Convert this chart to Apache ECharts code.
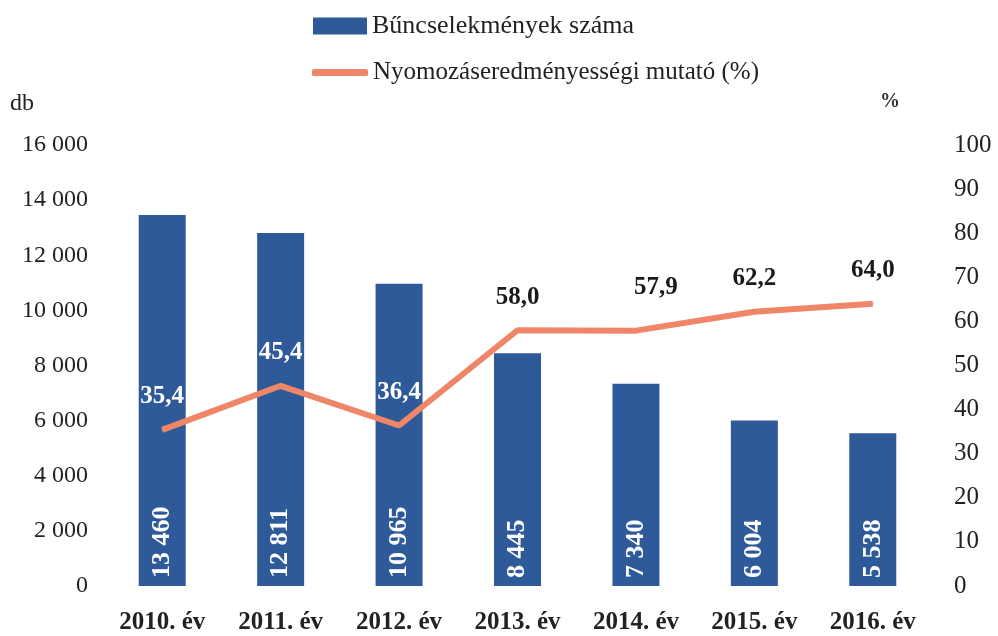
<!DOCTYPE html>
<html>
<head>
<meta charset="utf-8">
<script src="https://cdn.jsdelivr.net/npm/echarts@6/dist/echarts.min.js"></script>
<style>
  html, body { margin: 0; padding: 0; background: #fff; }
  #myChart { width: 998px; height: 636px; }
</style>
</head>
<body>
<div id="myChart"></div>
<script>
// adatok
var years = ['2010. év', '2011. év', '2012. év', '2013. év', '2014. év', '2015. év', '2016. év'];
var crimes = [13460, 12811, 10965, 8445, 7340, 6004, 5538];
var ratio = [35.4, 45.4, 36.4, 58.0, 57.9, 62.2, 64.0];
var leftTicks = [0, 2000, 4000, 6000, 8000, 10000, 12000, 14000, 16000];
var rightTicks = [0, 10, 20, 30, 40, 50, 60, 70, 80, 90, 100];

var font = '"Liberation Serif", "DejaVu Serif", serif';
var barColor = '#2f5a9a';
var lineColor = '#ef8668';

function thousands(v) {
  return String(v).replace(/\B(?=(\d{3})+(?!\d))/g, ' ');
}
function decimal(v) {
  return v.toFixed(1).replace('.', ',');
}

// the first three labels sit on the bars -> white
var ratioData = ratio.map(function (v, i) {
  var lbl = { color: i < 3 ? '#fff' : '#1a1a1a' };
  if (i === 4) lbl.offset = [20, -10];   // 2014 label is pushed up/right in the original
  return { value: v, label: lbl };
});

var myChart = echarts.init(document.getElementById('myChart'));
var option = {
  backgroundColor: '#fff',
  animation: false,
  textStyle: { fontFamily: font },
  legend: [
    {
      data: ['Bűncselekmények száma'],
      left: 308, top: 8,
      itemWidth: 54, itemHeight: 17, itemGap: 6,
      icon: 'rect',
      textStyle: { fontFamily: font, fontSize: 26, color: '#222' }
    },
    {
      data: ['Nyomozáseredményességi mutató (%)'],
      left: 307, top: 55,
      itemWidth: 56, itemHeight: 7, itemGap: 6,
      icon: 'roundRect',
      textStyle: { fontFamily: font, fontSize: 25, color: '#222' }
    }
  ],
  graphic: [
    { type: 'text', left: 10, top: 92, style: { text: 'db', font: '24px ' + font, fill: '#222' } },
    { type: 'text', left: 880, top: 92, style: { text: '%', font: 'bold 20px ' + font, fill: '#333' } }
  ],
  grid: { left: 103, right: 66, top: 145, bottom: 50 },
  xAxis: {
    type: 'category',
    data: years,
    axisLine: { show: false },
    axisTick: { show: false },
    axisLabel: {
      margin: 24,
      fontFamily: font, fontSize: 25, fontWeight: 'bold', color: '#222'
    }
  },
  yAxis: [
    {
      type: 'value',
      min: leftTicks[0], max: leftTicks[leftTicks.length - 1],
      interval: leftTicks[1] - leftTicks[0],
      splitLine: { show: false },
      axisLine: { show: false },
      axisTick: { show: false },
      axisLabel: {
        margin: 15,
        fontFamily: font, fontSize: 24, color: '#222',
        formatter: function (v) { return thousands(v); }
      }
    },
    {
      type: 'value',
      min: rightTicks[0], max: rightTicks[rightTicks.length - 1],
      interval: rightTicks[1] - rightTicks[0],
      splitLine: { show: false },
      axisLine: { show: false },
      axisTick: { show: false },
      axisLabel: {
        margin: 22,
        fontFamily: font, fontSize: 25, color: '#222'
      }
    }
  ],
  series: [
    {
      name: 'Bűncselekmények száma',
      type: 'bar',
      data: crimes,
      barWidth: 47,
      itemStyle: { color: barColor },
      label: {
        show: true,
        position: 'insideBottom',
        rotate: 90,
        align: 'left',
        verticalAlign: 'middle',
        distance: 8,
        fontFamily: font, fontSize: 26, fontWeight: 'bold', color: '#fff',
        formatter: function (p) { return thousands(p.value); }
      }
    },
    {
      name: 'Nyomozáseredményességi mutató (%)',
      type: 'line',
      yAxisIndex: 1,
      data: ratioData,
      symbol: 'circle',
      symbolSize: 1,
      lineStyle: { color: lineColor, width: 6 },
      itemStyle: { color: lineColor },
      label: {
        show: true,
        position: 'top',
        distance: 20,
        fontFamily: font, fontSize: 25, fontWeight: 'bold',
        formatter: function (p) { return decimal(p.value); }
      },
      z: 3
    }
  ]
};
myChart.setOption(option, true);
</script>
</body>
</html>
